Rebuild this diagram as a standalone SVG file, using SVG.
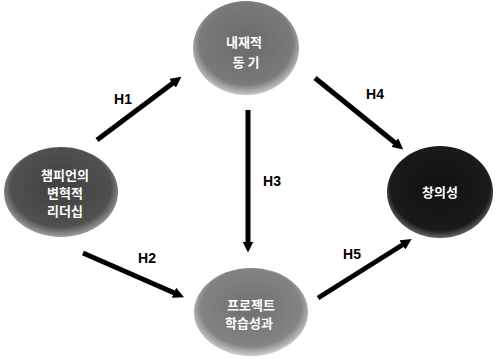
<svg xmlns="http://www.w3.org/2000/svg" width="500" height="359" viewBox="0 0 500 359">
<defs>
<radialGradient id="gTop" cx="50%" cy="45%" r="55%"><stop offset="0" stop-color="#6a6a6a"/><stop offset="0.8" stop-color="#7a7a7a"/><stop offset="1" stop-color="#c8c8c8"/></radialGradient>
<radialGradient id="gLeft" cx="50%" cy="45%" r="55%"><stop offset="0" stop-color="#404040"/><stop offset="0.8" stop-color="#505050"/><stop offset="1" stop-color="#a0a0a0"/></radialGradient>
<radialGradient id="gRight" cx="50%" cy="45%" r="55%"><stop offset="0" stop-color="#111"/><stop offset="0.85" stop-color="#1a1a1a"/><stop offset="1" stop-color="#666"/></radialGradient>
<radialGradient id="gBot" cx="50%" cy="45%" r="55%"><stop offset="0" stop-color="#707070"/><stop offset="0.8" stop-color="#838383"/><stop offset="1" stop-color="#cfcfcf"/></radialGradient>
<marker id="ah" viewBox="0 0 10 10" refX="5" refY="5" markerWidth="2.2" markerHeight="2.2" orient="auto" markerUnits="strokeWidth"><path d="M0,0 L10,5 L0,10 z" fill="#000"/></marker>
</defs>
<style>
.nt{font-family:"Noto Sans CJK KR","Noto Sans",sans-serif;font-weight:bold;font-size:13px;fill:#fff;text-anchor:middle}
.lb{font-family:"Liberation Sans",Arial,sans-serif;font-weight:bold;font-size:14px;fill:#000;text-anchor:middle}
.ar{stroke:#000;stroke-width:5;fill:none;marker-end:url(#ah)}
</style>
<rect width="500" height="359" fill="#fff"/>
<g id="connectors">
<line class="ar" x1="97" y1="140" x2="177" y2="80"/>
<line class="ar" x1="83" y1="253" x2="179" y2="295"/>
<line class="ar" x1="248" y1="110" x2="248" y2="247"/>
<line class="ar" x1="315" y1="78" x2="399" y2="146"/>
<line class="ar" x1="318" y1="298" x2="407" y2="242"/>
<text class="lb" x="123" y="104">H1</text>
<text class="lb" x="147" y="263">H2</text>
<text class="lb" x="272" y="186">H3</text>
<text class="lb" x="375" y="99">H4</text>
<text class="lb" x="352" y="259">H5</text>
</g>
<g id="top">
<ellipse cx="246" cy="48" rx="53" ry="47" fill="url(#gTop)"/>
<text class="nt" x="244" y="47">내재적</text>
<text class="nt" x="246" y="67">동 기</text>
</g>
<g id="left">
<ellipse cx="61" cy="192" rx="57" ry="45" fill="url(#gLeft)"/>
<text class="nt" x="65" y="180">챔피언의</text>
<text class="nt" x="65" y="198">변혁적</text>
<text class="nt" x="65" y="216">리더십</text>
</g>
<g id="right">
<ellipse cx="440" cy="192" rx="53" ry="46" fill="url(#gRight)"/>
<text class="nt" x="440" y="197">창의성</text>
</g>
<g id="bottom">
<ellipse cx="251" cy="312" rx="57" ry="44" fill="url(#gBot)"/>
<text class="nt" x="251" y="310">프로젝트</text>
<text class="nt" x="249" y="328">학습성과</text>
</g>
</svg>
